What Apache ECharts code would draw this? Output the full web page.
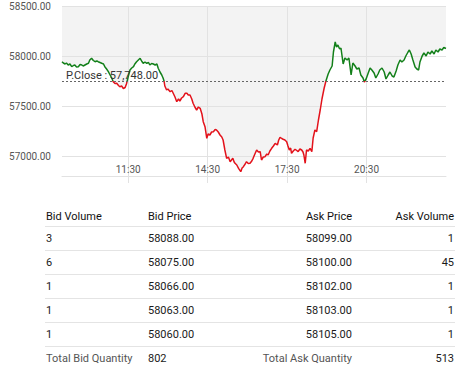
<!DOCTYPE html>
<html>
<head>
<meta charset="utf-8">
<script src="https://cdn.jsdelivr.net/npm/echarts@6/dist/echarts.min.js"></script>
<style>
html,body{margin:0;padding:0;background:#fff;}
#chart{width:472px;height:387px;}
</style>
</head>
<body>
<div id="chart"></div>
<script>
// ---- chart data ----
const prevClose = 57748;
const yTicks = [57000, 57500, 58000, 58500];
const xTickMinutes = [690, 870, 1050, 1230]; // 11:30, 14:30, 17:30, 20:30
// minute of day (09:00 = 540 ... 23:30 = 1410)
const minutes = [
  540,543,547,550,554,558,562,566,569,573,577,581,585,588,592,596,600,603,607,611,
  615,619,622,626,630,634,637,641,645,649,653,656,660,664,668,671,675,679,683,686,
  690,694,698,702,705,709,713,717,721,724,728,732,736,739,743,747,751,755,758,762,
  766,769,771,773,777,780,785,789,792,796,800,804,807,811,815,819,823,826,
  830,834,837,841,845,849,853,857,860,864,868,871,875,879,883,887,890,894,898,902,
  905,909,913,917,921,924,927,930,932,936,940,945,948,951,955,958,962,966,970,973,
  977,981,985,989,992,996,1000,1004,1007,1011,1015,1019,1023,1028,1031,1034,1038,1041,1045,1049,
  1052,1055,1058,1060,1064,1068,1072,1075,1079,1083,1086,1088,1091,1094,1098,1102,1106,1109,1113,1117,
  1121,1125,
  1129,1134,1138,1143,1147,1152,1155,1159,1162,1165,1169,1172,1177,1181,1186,1190,1195,1199,1204,1208,
  1213,1217,1222,1225,1229,1233,1238,1242,1247,1251,1256,1260,1265,1270,1274,1279,1283,1288,1292,1297,
  1301,1306,1310,1315,1319,1324,1327,1331,1335,1340,1344,1348,1351,1356,1360,1365,1369,1374,1378,1383,
  1387,1392,1396,1401,1405,1410
];
const prices = [
  57943,57930,57920,57930,57910,57920,57893,57905,57910,57890,57893,57915,57910,57900,57910,57920,57927,57960,57977,57955,
  57943,57950,57943,57935,57927,57920,57893,57870,57843,57810,57777,57743,57725,57727,57705,57693,57700,57675,57685,57720,
  57793,57860,57880,57893,57920,57943,57960,57977,57945,57927,57940,57927,57935,57910,57925,57920,57910,57920,57877,57840,
  57810,57780,57753,57700,57660,57670,57643,57655,57627,57590,57543,57570,57550,57580,57593,57627,57627,57610,
  57610,57570,57527,57490,57460,57490,57477,57420,57343,57293,57177,57220,57210,57240,57243,57265,57260,57240,57210,57190,
  57160,57060,56977,56990,56943,56960,56977,56940,56927,56910,56877,56843,56880,56893,56920,56943,56925,56927,56950,56977,
  57020,57060,57040,57043,56960,56990,56993,57020,57010,57050,57077,57100,57127,57110,57160,57187,57175,57167,57160,57143,
  57100,57060,57080,57027,57050,57067,57055,57043,57070,57060,57040,57010,56927,57060,57050,57077,57043,57180,57260,57243,
  57360,57460,
  57570,57680,57750,57820,57860,57900,58040,58140,58090,58110,58070,58080,57920,57980,57960,57980,57810,57930,57900,57870,
  57880,57810,57780,57740,57770,57820,57880,57860,57830,57780,57820,57860,57880,57840,57770,57810,57840,57800,57790,57850,
  57910,57960,57940,57960,58000,58040,58060,58020,57960,57890,57870,57860,57940,58000,58030,58000,58040,58020,58050,58020,
  58060,58040,58070,58060,58085,58075
];

// ---- order book data ----
const bookHeaders = ['Bid Volume', 'Bid Price', 'Ask Price', 'Ask Volume'];
const bidVolume = [3, 6, 1, 1, 1];
const bidPrice = ['58088.00', '58075.00', '58066.00', '58063.00', '58060.00'];
const askPrice = ['58099.00', '58100.00', '58102.00', '58103.00', '58105.00'];
const askVolume = [1, 45, 1, 1, 1];
const totalLabels = ['Total Bid Quantity', 'Total Ask Quantity'];
const totalBid = 802;
const totalAsk = 513;

const FONT = 'Roboto, "Noto Sans", sans-serif';
const lineData = minutes.map((m, i) => [m, prices[i]]);
const fmtTime = m => {
  const h = Math.floor(m / 60), mm = m % 60;
  return String(h).padStart(2, '0') + ':' + String(mm).padStart(2, '0');
};

// table graphics
const colX = [46, 148, 352, 454];
const colAlign = ['left', 'left', 'right', 'right'];
const headerY = 216.5, rowY0 = 238.5, rowStep = 24;
const graphics = [];
function txt(x, y, s, align, color) {
  graphics.push({
    type: 'text', x: x, y: y, silent: true,
    style: { text: String(s), x: 0, y: 0, fill: color, font: 'normal 11px ' + FONT,
      textAlign: align, textVerticalAlign: 'middle' }
  });
}
function hline(y) {
  graphics.push({ type: 'line', silent: true,
    shape: { x1: 45, y1: y, x2: 455, y2: y }, style: { stroke: '#e4e4e4', lineWidth: 1 } });
}
bookHeaders.forEach((h, i) => txt(colX[i], headerY, h, colAlign[i], '#111'));
hline(226.5);
bidVolume.forEach((v, r) => {
  const y = rowY0 + r * rowStep;
  txt(colX[0], y, bidVolume[r], 'left', '#1a1a1a');
  txt(colX[1], y, bidPrice[r], 'left', '#1a1a1a');
  txt(colX[2], y, askPrice[r], 'right', '#1a1a1a');
  txt(colX[3], y, askVolume[r], 'right', '#1a1a1a');
  hline(250.5 + r * rowStep);
});
const totY = rowY0 + bidVolume.length * rowStep;
txt(colX[0], totY, totalLabels[0], 'left', '#555');
txt(colX[1], totY, totalBid, 'left', '#1a1a1a');
txt(colX[2], totY, totalLabels[1], 'right', '#555');
txt(colX[3], totY, totalAsk, 'right', '#1a1a1a');

const chart = echarts.init(document.getElementById('chart'), null, { renderer: 'svg' });
chart.setOption({
  animation: false,
  textStyle: { fontFamily: FONT },
  grid: { left: 62, right: 26, top: 6, bottom: 211 },
  xAxis: {
    type: 'value', min: 540, max: 1410,
    axisLine: { show: true, lineStyle: { color: '#e2e2e2' } },
    axisTick: { show: true, customValues: xTickMinutes, length: 7, lineStyle: { color: '#e2e2e2' } },
    axisLabel: { customValues: xTickMinutes, inside: true, margin: 2, color: '#555', fontSize: 10,
      formatter: v => fmtTime(v) },
    splitLine: { show: true, lineStyle: { color: '#e2e2e2' } }
  },
  yAxis: {
    type: 'value', min: 56800, max: 58500,
    axisLine: { show: false },
    axisTick: { show: false, customValues: yTicks },
    axisLabel: { customValues: yTicks, color: '#555', fontSize: 10, margin: 11,
      formatter: v => v.toFixed(2) },
    splitLine: { show: true, lineStyle: { color: '#e2e2e2' } }
  },
  visualMap: {
    show: false, type: 'piecewise', dimension: 1, seriesIndex: 1,
    pieces: [
      { gte: 50000, lte: prevClose, color: '#e3121b' },
      { gt: prevClose, lte: 65000, color: '#13801a' }
    ]
  },
  series: [
    {
      type: 'line', data: lineData, symbol: 'none', silent: true, z: -1,
      lineStyle: { width: 0, opacity: 0 },
      areaStyle: { origin: 'end', color: '#f3f3f3', opacity: 1 }
    },
    {
      type: 'line', data: lineData, symbol: 'none', silent: true,
      lineStyle: { width: 1.5 },
      markLine: {
        silent: true, symbol: 'none',
        lineStyle: { type: [2, 2], color: '#666', width: 1 },
        label: { position: 'insideStartTop', distance: [4, 0], color: '#333', fontSize: 11,
          fontFamily: FONT, formatter: 'P.Close : 57,748.00' },
        data: [{ yAxis: prevClose }]
      }
    }
  ],
  graphic: graphics
});
</script>
</body>
</html>
